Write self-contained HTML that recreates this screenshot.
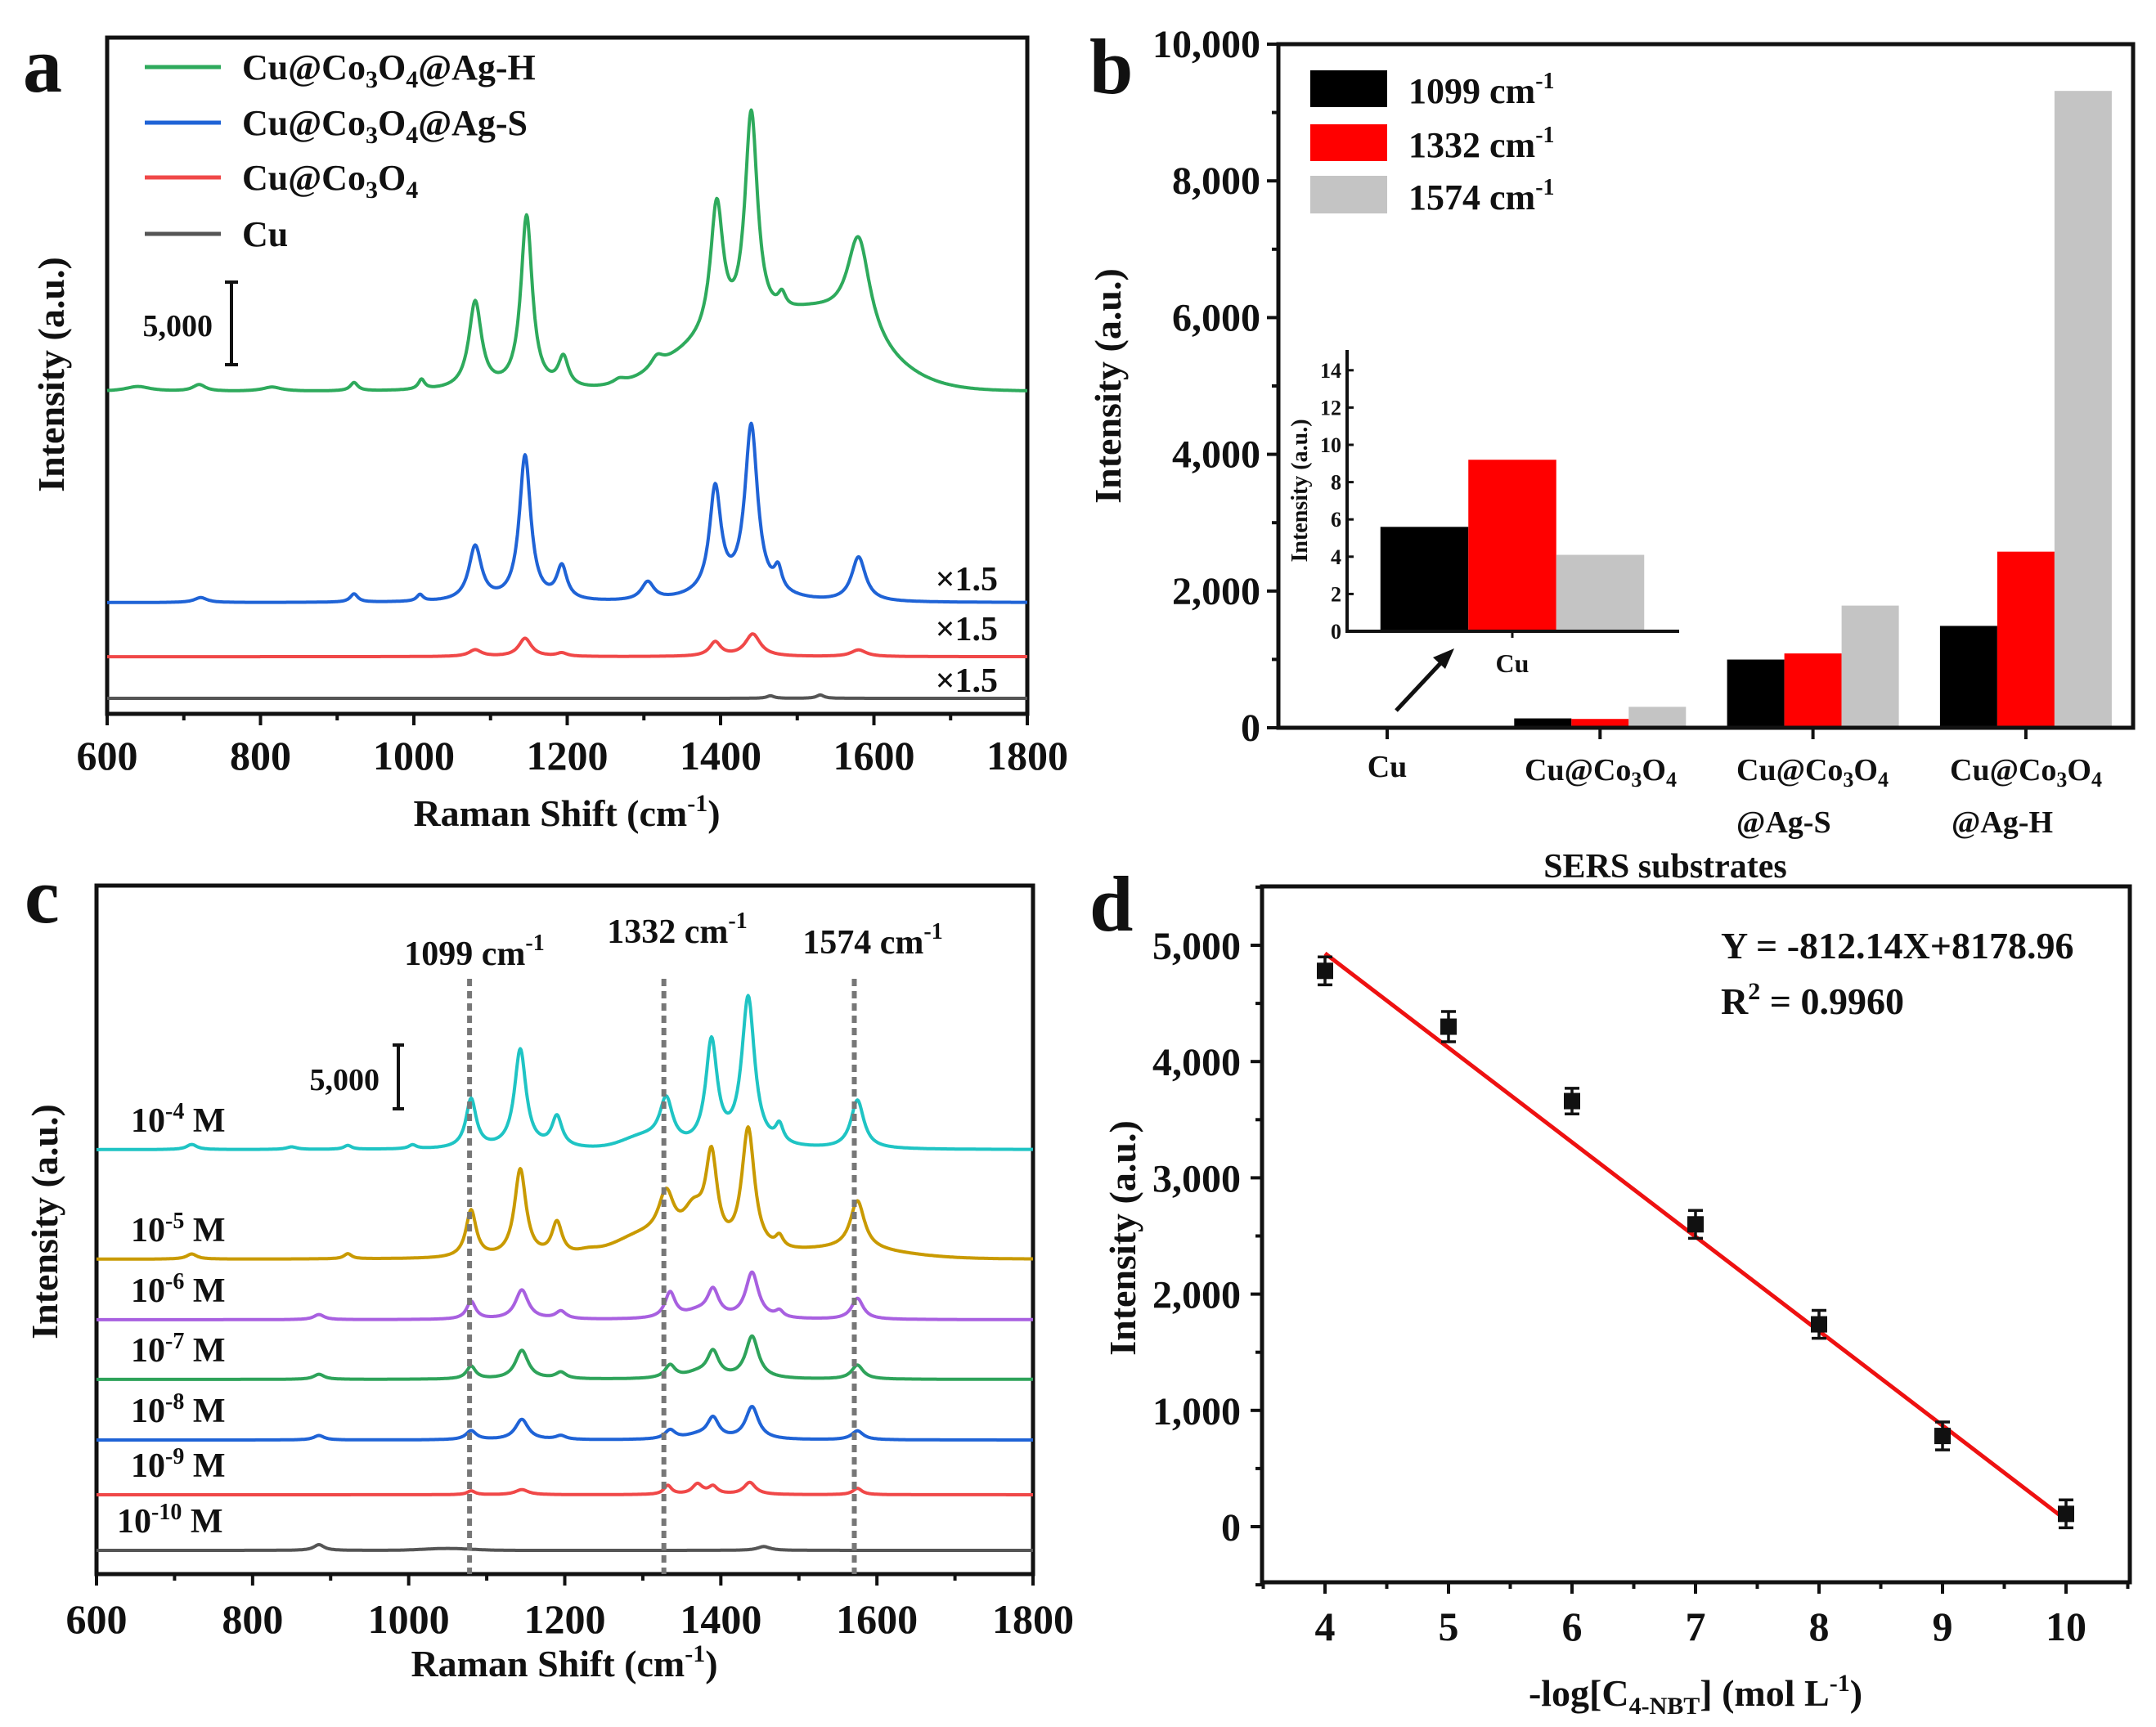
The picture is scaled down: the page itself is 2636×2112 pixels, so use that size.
<!DOCTYPE html>
<html><head><meta charset="utf-8"><style>
body{margin:0;background:#fff}
svg{display:block}
text{font-family:"Liberation Serif",serif;font-weight:bold;fill:#111}
</style></head><body>
<svg id="fig" xmlns="http://www.w3.org/2000/svg" width="2636" height="2112" viewBox="0 0 2636 2112">
<rect width="2636" height="2112" fill="#fff"/>
<text x="28" y="112" font-size="96">a</text>
<text x="1332" y="114" font-size="96">b</text>
<text x="30" y="1128" font-size="96">c</text>
<text x="1332" y="1138" font-size="96">d</text>

<g id="pa">
<rect x="131" y="46" width="1125" height="827" fill="none" stroke="#111" stroke-width="5"/>
<text transform="translate(78,458) rotate(-90)" text-anchor="middle" font-size="46">Intensity (a.u.)</text>
<text x="693" y="1010" text-anchor="middle" font-size="46">Raman Shift (cm<tspan dy="-18" font-size="30">-1</tspan><tspan dy="18">)</tspan></text>
<g>
<line x1="177" y1="82" x2="270" y2="82" stroke="#2eaa5c" stroke-width="5"/>
<text x="296" y="97" font-size="44">Cu@Co<tspan font-size="30" dy="10">3</tspan><tspan dy="-10">O</tspan><tspan font-size="30" dy="10">4</tspan><tspan dy="-10">@Ag-H</tspan></text>
<line x1="177" y1="150" x2="270" y2="150" stroke="#1f63d6" stroke-width="5"/>
<text x="296" y="165" font-size="44">Cu@Co<tspan font-size="30" dy="10">3</tspan><tspan dy="-10">O</tspan><tspan font-size="30" dy="10">4</tspan><tspan dy="-10">@Ag-S</tspan></text>
<line x1="177" y1="217" x2="270" y2="217" stroke="#f04848" stroke-width="5"/>
<text x="296" y="232" font-size="44">Cu@Co<tspan font-size="30" dy="10">3</tspan><tspan dy="-10">O</tspan><tspan font-size="30" dy="10">4</tspan></text>
<line x1="177" y1="286" x2="270" y2="286" stroke="#555" stroke-width="5"/>
<text x="296" y="301" font-size="44">Cu</text>
</g>
<g>
<line x1="283" y1="345" x2="283" y2="446" stroke="#111" stroke-width="4"/>
<line x1="275" y1="345" x2="291" y2="345" stroke="#111" stroke-width="4"/>
<line x1="275" y1="446" x2="291" y2="446" stroke="#111" stroke-width="4"/>
<text x="260" y="411" text-anchor="end" font-size="38">5,000</text>
</g>
<text x="1220" y="722" text-anchor="end" font-size="42">×1.5</text>
<text x="1220" y="783" text-anchor="end" font-size="42">×1.5</text>
<text x="1220" y="846" text-anchor="end" font-size="42">×1.5</text>
</g>

<g id="pb">
<text transform="translate(1370,472) rotate(-90)" text-anchor="middle" font-size="46">Intensity (a.u.)</text>
<text x="2036" y="1073" text-anchor="middle" font-size="42">SERS substrates</text>
<g>
<rect x="1602" y="86" width="94" height="45" fill="#000"/>
<text x="1722" y="126" font-size="44">1099 cm<tspan dy="-18" font-size="28">-1</tspan></text>
<rect x="1602" y="152" width="94" height="45" fill="#ff0000"/>
<text x="1722" y="192" font-size="44">1332 cm<tspan dy="-18" font-size="28">-1</tspan></text>
<rect x="1602" y="215" width="94" height="46" fill="#c4c4c4"/>
<text x="1722" y="256" font-size="44">1574 cm<tspan dy="-18" font-size="28">-1</tspan></text>
</g>
<text x="1696" y="950" text-anchor="middle" font-size="38">Cu</text>
<text x="1957" y="954" text-anchor="middle" font-size="38">Cu@Co<tspan font-size="26" dy="8">3</tspan><tspan dy="-8">O</tspan><tspan font-size="26" dy="8">4</tspan></text>
<text x="2216" y="954" text-anchor="middle" font-size="38">Cu@Co<tspan font-size="26" dy="8">3</tspan><tspan dy="-8">O</tspan><tspan font-size="26" dy="8">4</tspan></text>
<text x="2123" y="1018" font-size="38">@Ag-S</text>
<text x="2477" y="954" text-anchor="middle" font-size="38">Cu@Co<tspan font-size="26" dy="8">3</tspan><tspan dy="-8">O</tspan><tspan font-size="26" dy="8">4</tspan></text>
<text x="2386" y="1018" font-size="38">@Ag-H</text>
<g id="inset">
<text transform="translate(1598,600) rotate(-90)" text-anchor="middle" font-size="28">Intensity (a.u.)</text>
<text x="1849" y="822" text-anchor="middle" font-size="32">Cu</text>
</g>
<g>
<line x1="1707" y1="869" x2="1766" y2="806" stroke="#111" stroke-width="5"/>
<polygon points="1778,793 1752,804 1767,818" fill="#111"/>
</g>
</g>

<g id="pc">
<rect x="118" y="1083" width="1145" height="842" fill="none" stroke="#111" stroke-width="5"/>
<text transform="translate(70,1494) rotate(-90)" text-anchor="middle" font-size="46">Intensity (a.u.)</text>
<text x="690" y="2050" text-anchor="middle" font-size="46">Raman Shift (cm<tspan dy="-18" font-size="30">-1</tspan><tspan dy="18">)</tspan></text>
<g>
<line x1="487" y1="1278" x2="487" y2="1356" stroke="#111" stroke-width="4"/>
<line x1="480" y1="1278" x2="494" y2="1278" stroke="#111" stroke-width="4"/>
<line x1="480" y1="1356" x2="494" y2="1356" stroke="#111" stroke-width="4"/>
<text x="464" y="1333" text-anchor="end" font-size="38">5,000</text>
</g>
<text x="580" y="1180" text-anchor="middle" font-size="42">1099 cm<tspan dy="-18" font-size="28">-1</tspan></text>
<text x="828" y="1153" text-anchor="middle" font-size="42">1332 cm<tspan dy="-18" font-size="28">-1</tspan></text>
<text x="1067" y="1166" text-anchor="middle" font-size="42">1574 cm<tspan dy="-18" font-size="28">-1</tspan></text>
</g>

<g id="pd">
<rect x="1543" y="1084" width="1061" height="851" fill="none" stroke="#111" stroke-width="5"/>
<text transform="translate(1388,1514) rotate(-90)" text-anchor="middle" font-size="46">Intensity (a.u.)</text>
<text x="2073" y="2086" text-anchor="middle" font-size="46">-log[C<tspan font-size="30" dy="10">4-NBT</tspan><tspan dy="-10">] (mol L</tspan><tspan dy="-18" font-size="30">-1</tspan><tspan dy="18">)</tspan></text>
<text x="2104" y="1172" font-size="46">Y = -812.14X+8178.96</text>
<text x="2104" y="1240" font-size="46">R<tspan dy="-18" font-size="30">2</tspan><tspan dy="18"> = 0.9960</tspan></text>
</g>
</svg>
<script>
// panel a: peaks [center cm-1, height a.u., half-width]; negative width = gaussian sigma
const aSeries = ['Cu@Co3O4@Ag-H','Cu@Co3O4@Ag-S','Cu@Co3O4','Cu'];
const aColors = ['#2eaa5c','#1f63d6','#f04848','#555555'];
const aOffsets = [18560, 5790, 2520, 0];
const aPeaksH = [[1520,4500,-75],[1375,2000,-55],[1440,13000,10],[1395,8000,10],[1147,10500,9],[1080,5300,10],[1195,1800,8],[1580,6000,18],[1480,900,6],[1317,700,10],[1010,600,5],[922,500,6],[720,400,10],[640,300,20],[815,250,15],[1268,300,10]];
const aPeaksS = [[1420,500,-50],[1440,10100,10],[1145,8800,9],[1393,6300,9],[1080,3300,10],[1193,2000,8],[1580,2700,11],[1475,1300,6],[1305,1100,10],[922,500,6],[1008,400,5],[722,300,10]];
const aPeaksC = [[1442,1350,12],[1145,1100,10],[1393,850,9],[1080,400,10],[1580,400,12],[1193,200,8]];
const aPeaksCu = [[1465,150,6],[1530,200,6]];
const aPeaks = [aPeaksH, aPeaksS, aPeaksC, aPeaksCu];
const ramanTicks = [600,800,1000,1200,1400,1600,1800];

const bCategories = ['Cu','Cu@Co3O4','Cu@Co3O4@Ag-S','Cu@Co3O4@Ag-H'];
const b1099 = [5.6, 137, 998, 1490];
const b1332 = [9.2, 129, 1087, 2576];
const b1574 = [4.1, 306, 1787, 9316];
const bColors = ['#000000','#ff0000','#c4c4c4'];
const bTicks = [0,2000,4000,6000,8000,10000];
const bTickLabels = ['0','2,000','4,000','6,000','8,000','10,000'];
const insetTicks = [0,2,4,6,8,10,12,14];

const cLabels = ['-4','-5','-6','-7','-8','-9','-10'];
const cColors = ['#1fc4c4','#c99a00','#a860e0','#2ea35a','#1f63d6','#f04848','#555555'];
const cOffsets = [31410, 22820, 18080, 13400, 8650, 4360, 0];
const cPeaks = [
 [[1435,11700,10],[1388,8200,9],[1143,7750,9],[1080,3850,8],[1330,3500,10],[1300,800,-25],[1575,3800,10],[1190,2400,8],[1475,1400,6],[722,400,8],[922,300,6],[1005,300,6],[850,200,8]],
 [[1435,9700,10],[1388,7000,9],[1365,3000,18],[1143,6900,9],[1080,3700,8],[1330,3600,12],[1300,1500,-35],[1575,3800,11],[1560,700,-70],[1190,2600,8],[1475,900,6],[722,400,8],[922,400,6],[1230,400,20]],
 [[1440,3600,10],[1145,2300,10],[1390,2100,9],[1335,2000,8],[1080,1400,7],[1575,1650,9],[1195,600,8],[885,400,8],[1475,500,6],[1370,500,20]],
 [[1440,3300,10],[1145,2250,10],[1390,2000,9],[1335,1000,8],[1080,1000,7],[1575,1100,9],[885,400,8],[1195,500,8],[1370,400,20]],
 [[1440,2550,10],[1145,1600,10],[1390,1600,9],[1335,700,8],[1080,700,8],[1575,700,9],[885,350,8],[1195,300,8],[1370,300,20]],
 [[1437,950,9],[1370,800,8],[1390,600,7],[1332,700,6],[1145,400,10],[1575,500,7],[1080,300,6]],
 [[885,450,8],[1455,300,10],[1050,150,-30]]
];
const cDashes = [1078, 1327, 1571];

const dX = [4,5,6,7,8,9,10];
const dY = [4780,4300,3660,2600,1740,780,110];
const dErr = [120,130,110,120,120,120,120];
const dSlope = -812.14, dIntercept = 8178.96;
const dXTicks = [4,5,6,7,8,9,10];
const dYTicks = [0,1000,2000,3000,4000,5000];
const dYTickLabels = ['0','1,000','2,000','3,000','4,000','5,000'];

const NS='http://www.w3.org/2000/svg';
function mk(tag, parent, attrs){const e=document.createElementNS(NS,tag);for(const k in attrs)e.setAttribute(k,attrs[k]);parent.appendChild(e);return e;}
function spec(peaks,x){let s=0;for(const p of peaks){if(p[2]<0){const d=(x-p[0])/(-p[2]);s+=p[1]*Math.exp(-0.5*d*d);}else{const d=(x-p[0])/p[2];s+=p[1]/(1+d*d);}}return s;}
function spectrumPath(peaks,off,xf,yf){let d='';for(let x=600;x<=1800;x+=1){const v=off+spec(peaks,x);d+=(x===600?'M':'L')+xf(x).toFixed(1)+','+yf(v).toFixed(1);}return d;}

const pa=document.getElementById('pa');
const xa=v=>131+(v-600)/1200*1125;
const ya=v=>854-v*0.0202;
for(let v=600;v<=1800;v+=100){const major=(v%200===0);const t=mk('line',pa,{x1:xa(v),x2:xa(v),y1:873,y2:873+(major?14:8),stroke:'#111','stroke-width':4});

}
ramanTicks.forEach(v=>{const t=mk('text',pa,{x:xa(v),y:941,'text-anchor':'middle','font-size':50});t.textContent=v;

});
aSeries.forEach((s,i)=>{const p=mk('path',pa,{d:spectrumPath(aPeaks[i],aOffsets[i],xa,ya),fill:'none',stroke:aColors[i],'stroke-width':4,'stroke-linejoin':'round'});

});

const pb=document.getElementById('pb');
const yb=v=>890-v/10000*836;
const xb=i=>1696+i*260.3;
const bw=70;
[b1099,b1332,b1574].forEach((arr,s)=>{arr.forEach((v,i)=>{const x=xb(i)-1.5*bw+s*bw;const r=mk('rect',pb,{x:x,y:yb(v),width:bw,height:890-yb(v),fill:bColors[s]});

});});
const fb=mk('rect',pb,{x:1563,y:54,width:1045,height:836,fill:'none',stroke:'#111','stroke-width':5});


for(let v=0;v<=10000;v+=1000){const major=(v%2000===0);const t=mk('line',pb,{x1:1563,x2:1563-(major?14:8),y1:yb(v),y2:yb(v),stroke:'#111','stroke-width':4});

}
bTicks.forEach((v,i)=>{const t=mk('text',pb,{x:1541,y:yb(v)+16,'text-anchor':'end','font-size':48});t.textContent=bTickLabels[i];

});
bCategories.forEach((c,i)=>{const t=mk('line',pb,{x1:xb(i),x2:xb(i),y1:890,y2:904,stroke:'#111','stroke-width':4});

});
const ins=document.getElementById('inset');
const yi=v=>772-v*22.8;
const iw=107.5;
[b1099,b1332,b1574].forEach((arr,s)=>{const v=arr[0];const r=mk('rect',ins,{x:1849-1.5*iw+s*iw,y:yi(v),width:iw,height:772-yi(v),fill:bColors[s]});

});
const ia=mk('path',ins,{d:'M1647,428 L1647,772 L2053,772',fill:'none',stroke:'#111','stroke-width':4});


insetTicks.forEach(v=>{const t=mk('line',ins,{x1:1647,x2:1655,y1:yi(v),y2:yi(v),stroke:'#111','stroke-width':3});


const l=mk('text',ins,{x:1640,y:yi(v)+9,'text-anchor':'end','font-size':26});l.textContent=v;

});
const it=mk('line',ins,{x1:1849,x2:1849,y1:772,y2:780,stroke:'#111','stroke-width':3});



const pc=document.getElementById('pc');
const xc=v=>118+(v-600)/1200*1145;
const yc=v=>1896-v*0.0156;
for(let v=600;v<=1800;v+=100){const major=(v%200===0);const t=mk('line',pc,{x1:xc(v),x2:xc(v),y1:1925,y2:1925+(major?14:8),stroke:'#111','stroke-width':4});

}
ramanTicks.forEach(v=>{const t=mk('text',pc,{x:xc(v),y:1997,'text-anchor':'middle','font-size':50});t.textContent=v;

});
cPeaks.forEach((pk,i)=>{const p=mk('path',pc,{d:spectrumPath(pk,cOffsets[i],xc,yc),fill:'none',stroke:cColors[i],'stroke-width':4,'stroke-linejoin':'round'});


const ly=yc(cOffsets[i])-22;
const t=mk('text',pc,{x:(i===6?143:160),y:ly,'font-size':42});


t.innerHTML='10<tspan dy="-16" font-size="28">'+cLabels[i]+'</tspan><tspan dy="16"> M</tspan>';});
cDashes.forEach(v=>{const l=mk('line',pc,{x1:xc(v),x2:xc(v),y1:1197,y2:1925,stroke:'#777','stroke-width':6,'stroke-dasharray':'9,6'});

});

const pd=document.getElementById('pd');
const xd=v=>1620+(v-4)*151;
const yd=v=>1867-v*0.1422;
for(let v=3.5;v<=10.5;v+=0.5){const major=Number.isInteger(v);const t=mk('line',pd,{x1:xd(v),x2:xd(v),y1:1935,y2:1935+(major?14:8),stroke:'#111','stroke-width':4});

}
for(let v=-500;v<=5500;v+=500){const major=(v%1000===0);const t=mk('line',pd,{x1:1543,x2:1543-(major?14:8),y1:yd(v),y2:yd(v),stroke:'#111','stroke-width':4});

}
dXTicks.forEach(v=>{const t=mk('text',pd,{x:xd(v),y:2006,'text-anchor':'middle','font-size':50});t.textContent=v;

});
dYTicks.forEach((v,i)=>{const t=mk('text',pd,{x:1517,y:yd(v)+17,'text-anchor':'end','font-size':48});t.textContent=dYTickLabels[i];

});
const fit=mk('line',pd,{x1:xd(dX[0]),y1:yd(dSlope*dX[0]+dIntercept),x2:xd(dX[dX.length-1]),y2:yd(dSlope*dX[dX.length-1]+dIntercept),stroke:'#ee1111','stroke-width':5});


dX.forEach((x,i)=>{const cx=xd(x),cy=yd(dY[i]),e=dErr[i]*0.1422;
const g=mk('g',pd,{});


mk('path',g,{d:`M${cx},${cy-e}L${cx},${cy+e}M${cx-9},${cy-e}L${cx+9},${cy-e}M${cx-9},${cy+e}L${cx+9},${cy+e}`,stroke:'#111','stroke-width':3.5,fill:'none'});
mk('rect',g,{x:cx-10,y:cy-10,width:20,height:20,fill:'#111'});});
</script>
</body></html>
